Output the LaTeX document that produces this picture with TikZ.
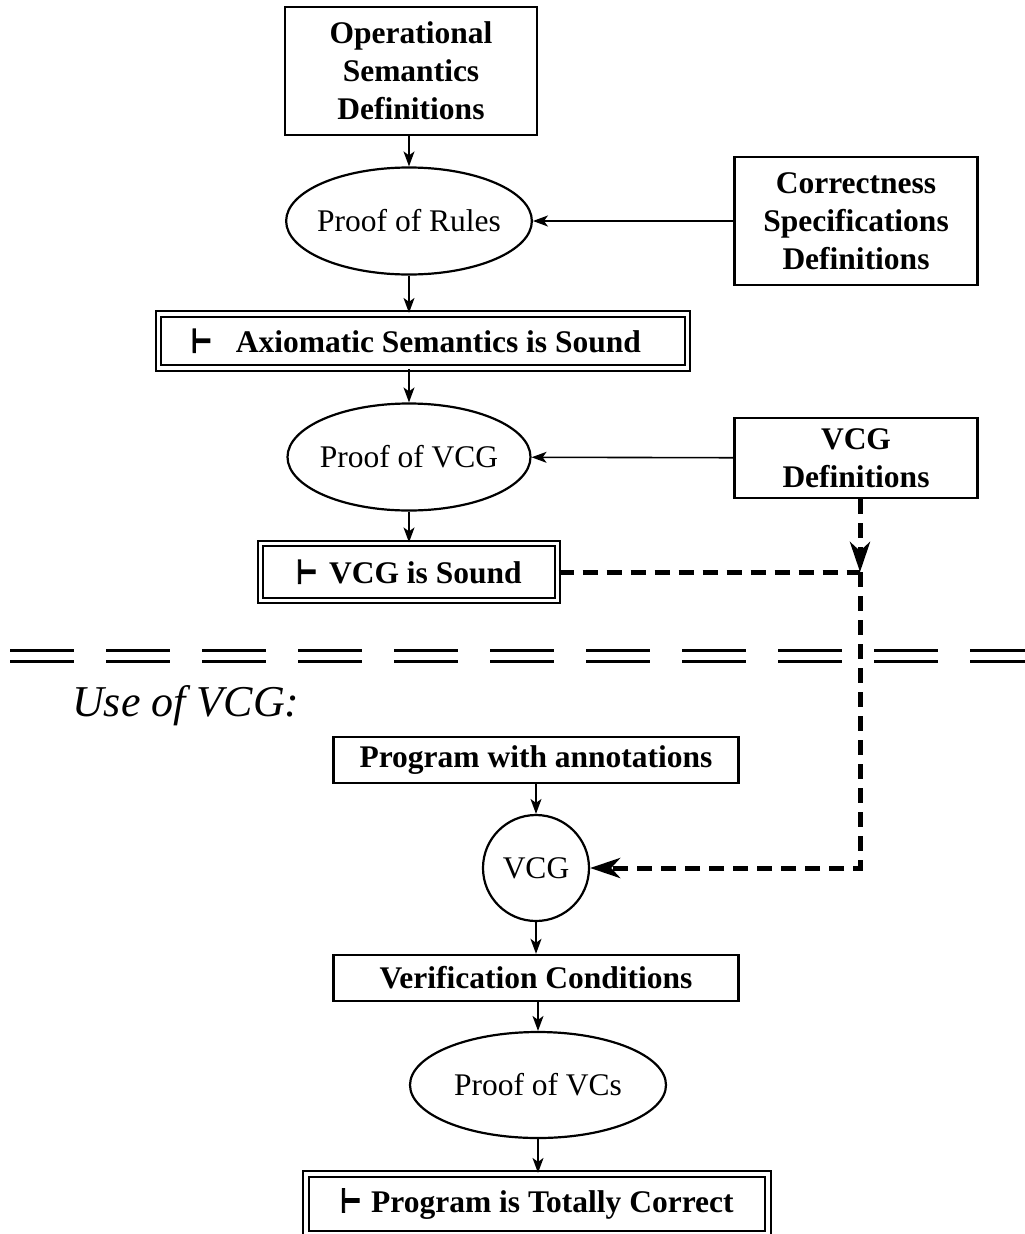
\documentclass[tikz,border=0pt]{standalone}
\usepackage{graphicx}
\usepackage{fontspec}
\setmainfont{Liberation Serif}
\newfontfamily\symfont[FakeBold=4]{DejaVu Sans}
\usetikzlibrary{arrows.meta,shapes.geometric}
\newcommand{\turn}{\scalebox{0.72}[1.05]{\symfont ⊢}}
\begin{document}
\begin{tikzpicture}[x=1pt,y=-1pt,
 lbl/.style={font=\fontsize{31.5}{38}\selectfont\bfseries, align=center, inner sep=0pt},
 box/.style={lbl, draw, line width=2.4pt, rectangle},
 dbox/.style={lbl, draw, line width=2.2pt, double, double distance=3.5pt},
 oval/.style={draw, ellipse, line width=2.2pt, inner ysep=0pt, inner xsep=-5pt, font=\fontsize{31.5}{38}\selectfont},
 arr/.style={line width=1.6pt, -{Stealth[length=15pt,width=11pt,inset=4pt]}},
 darr/.style={line width=5pt, dash pattern=on 15pt off 9pt},
 dtip/.style={-{Stealth[length=30pt,width=20pt,inset=9pt]}},
 sepline/.style={line width=2.8pt, dash pattern=on 64pt off 32pt}
]
\useasboundingbox (0,0) rectangle (1025,1234);

\node[box, minimum width=252pt, minimum height=128pt] (ops) at (411,71) {Operational\\Semantics\\Definitions};
\node[oval, minimum width=245pt, minimum height=107pt] (rules) at (409,221) {Proof of Rules};
\node[box, minimum width=243pt, minimum height=128pt] (corr) at (856,221) {Correctness\\Specifications\\Definitions};
\node[dbox, minimum width=529pt, minimum height=54pt] (axs) at (423,341) {\turn\hspace{24pt}Axiomatic Semantics is Sound\hspace{14pt}};
\node[oval, minimum width=243pt, minimum height=107pt] (pvcg) at (409,457) {Proof of VCG};
\node[box, minimum width=243pt, minimum height=80pt] (vdef) at (856,458) {VCG\\Definitions};
\node[dbox, minimum width=297pt, minimum height=57pt] (vsound) at (409,572) {\turn\hspace{12pt}VCG is Sound};
\coordinate (jn) at (860,572);

\coordinate (sepAL) at (10,650.5);
\coordinate (sepAR) at (1025,650.5);
\coordinate (sepBL) at (10,661.5);
\coordinate (sepBR) at (1025,661.5);
\draw[sepline] (sepAL) -- (sepAR);
\draw[sepline] (sepBL) -- (sepBR);

\node[font=\fontsize{44}{52}\selectfont\itshape, anchor=base west, inner sep=0pt] (use) at (72,716) {Use of VCG:};

\node[box, minimum width=405pt, minimum height=46pt] (prog) at (536,760) {Program with annotations};
\node[draw, circle, line width=2.2pt, minimum size=106pt, inner sep=0pt, font=\fontsize{31.5}{38}\selectfont] (vcg) at (536,868) {VCG};
\node[box, minimum width=405pt, minimum height=46pt] (vc) at (536,978) {Verification Conditions};
\node[oval, minimum width=256pt, minimum height=106pt] (pvc) at (538,1085) {Proof of VCs};
\node[dbox, minimum width=462pt, minimum height=60pt] (tot) at (537,1204) {\turn\hspace{10pt}Program is Totally Correct};

\draw[arr] (ops.south -| rules) -- (rules.north);
\draw[arr] (corr) -- (rules);
\draw[arr] (rules.south) -- (rules.south |- axs.north);
\draw[arr] (axs.south -| pvcg) -- (pvcg.north);
\draw[arr] (vdef) -- (pvcg);
\draw[arr] (pvcg.south) -- (vsound.north);
\draw[arr] (prog.south) -- (vcg.north);
\draw[arr] (vcg.south) -- (vc.north);
\draw[arr] (vc.south -| pvc) -- (pvc.north);
\draw[arr] (pvc.south) -- (pvc.south |- tot.north);

\draw[darr, dtip] (vdef.south -| jn) -- (jn);
\draw[darr] (vsound.east) -- (jn);
\draw[darr, dtip] (jn) -- (jn |- vcg) -- (vcg.east);
\end{tikzpicture}
\end{document}
